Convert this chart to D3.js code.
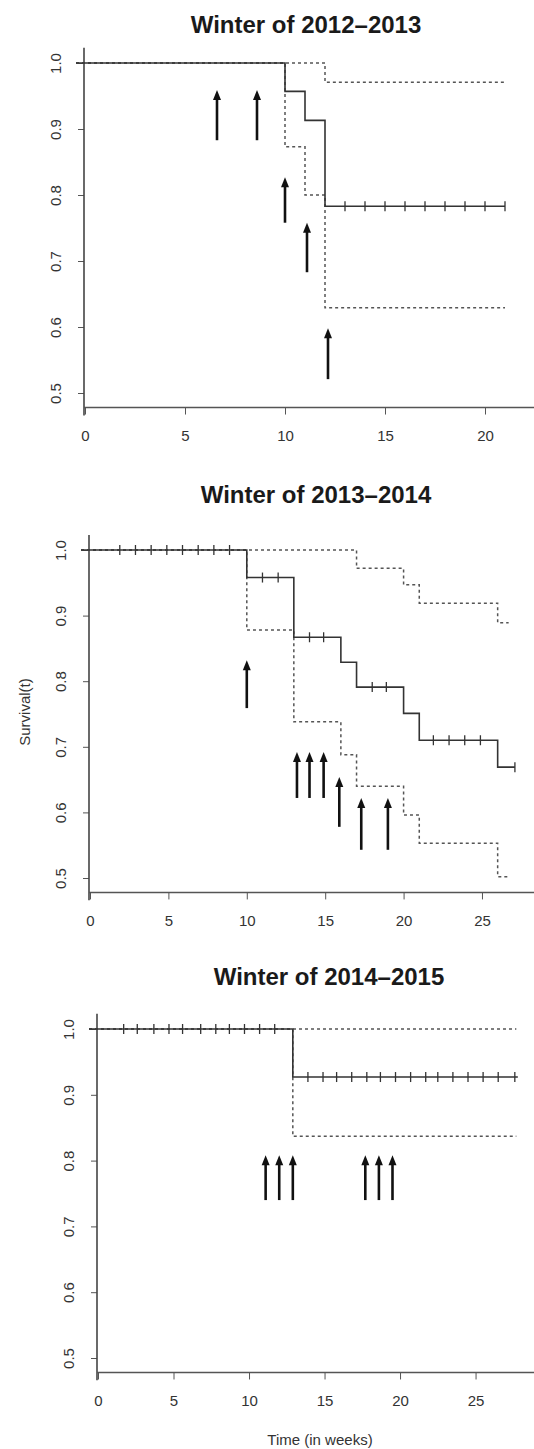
<!DOCTYPE html>
<html>
<head>
<meta charset="utf-8">
<script src="https://cdn.jsdelivr.net/npm/d3@7"></script>
<style>
  body { margin: 0; background: #fff; }
  text { font-family: "Liberation Sans", Arial, sans-serif; }
</style>
</head>
<body>
<svg id="chart" width="534" height="1449"></svg>
<script>
// ---- data ----
var titles = ["Winter of 2012\u20132013", "Winter of 2013\u20132014", "Winter of 2014\u20132015"];
var yTicks = [0.5, 0.6, 0.7, 0.8, 0.9, 1.0];
var xTicksA = [0, 5, 10, 15, 20];
var xTicksB = [0, 5, 10, 15, 20, 25];

// winter 2012-2013
var p1SolidTime = [0, 10, 11, 12], p1SolidSurv = [1, 0.957, 0.913, 0.783], p1SolidEnd = 21;
var p1SolidCensor = [13, 14, 15, 16, 17, 18, 19, 20, 21];
var p1HighTime = [0, 12], p1HighSurv = [1, 0.971], p1HighEnd = 21;
var p1LowTime = [0, 10, 11, 12], p1LowSurv = [1, 0.873, 0.8, 0.629], p1LowEnd = 21;
var p1ArrowTime = [6.6, 8.6, 10.0, 11.1, 12.15];
var p1ArrowHead = [0.959, 0.959, 0.827, 0.758, 0.598];
var p1ArrowTail = [0.883, 0.883, 0.758, 0.683, 0.521];

// winter 2013-2014
var p2SolidTime = [0, 10, 13, 16, 17, 20, 21, 26];
var p2SolidSurv = [1, 0.958, 0.867, 0.829, 0.791, 0.751, 0.71, 0.669], p2SolidEnd = 27.1;
var p2SolidCensor = [1.9, 2.9, 3.9, 4.9, 5.9, 6.9, 7.9, 8.9, 11, 12, 14, 14.9, 18, 18.9, 21.9, 22.9, 23.9, 24.9, 27.1];
var p2HighTime = [0, 17, 20, 21, 26], p2HighSurv = [1, 0.972, 0.947, 0.919, 0.889], p2HighEnd = 26.7;
var p2LowTime = [0, 10, 13, 16, 17, 20, 21, 26];
var p2LowSurv = [1, 0.878, 0.738, 0.688, 0.64, 0.596, 0.553, 0.502], p2LowEnd = 26.8;
var p2ArrowTime = [10.0, 13.2, 14.0, 14.9, 15.9, 17.3, 19.0];
var p2ArrowHead = [0.832, 0.692, 0.692, 0.692, 0.654, 0.622, 0.622];
var p2ArrowTail = [0.759, 0.622, 0.622, 0.622, 0.578, 0.543, 0.543];

// winter 2014-2015
var p3SolidTime = [0, 12.9], p3SolidSurv = [1, 0.927], p3SolidEnd = 27.8;
var p3SolidCensor = [1.7, 2.6, 3.7, 4.7, 5.6, 6.8, 7.8, 8.7, 9.7, 10.7, 11.7,
                     13.9, 14.9, 15.8, 16.8, 17.8, 18.7, 19.7, 20.7, 21.7, 22.5, 23.5, 24.5, 25.5, 26.5, 27.6];
var p3HighTime = [0], p3HighSurv = [1], p3HighEnd = 27.7;
var p3LowTime = [0, 12.9], p3LowSurv = [1, 0.837], p3LowEnd = 27.7;
var p3ArrowTime = [11.1, 12.0, 12.9, 17.7, 18.6, 19.5];
var p3ArrowHead = [0.808, 0.808, 0.808, 0.808, 0.808, 0.808];
var p3ArrowTail = [0.74, 0.74, 0.74, 0.74, 0.74, 0.74];

function curve(time, surv, end, censor, dashed) {
  return {time: time, surv: surv, end: end, censor: censor || [], dashed: dashed};
}

var panels = [
  { title: titles[0], xTicks: xTicksA, xDom: [0, 22.45], xRange: [85, 534], yRange: [393, 63],
    titleX: 306, titleY: 33,
    curves: [curve(p1HighTime, p1HighSurv, p1HighEnd, null, true),
             curve(p1LowTime, p1LowSurv, p1LowEnd, null, true),
             curve(p1SolidTime, p1SolidSurv, p1SolidEnd, p1SolidCensor, false)],
    arrows: {time: p1ArrowTime, head: p1ArrowHead, tail: p1ArrowTail} },
  { title: titles[1], xTicks: xTicksB, xDom: [0, 28.19], xRange: [90, 532], yRange: [878, 550],
    titleX: 316, titleY: 503,
    curves: [curve(p2HighTime, p2HighSurv, p2HighEnd, null, true),
             curve(p2LowTime, p2LowSurv, p2LowEnd, null, true),
             curve(p2SolidTime, p2SolidSurv, p2SolidEnd, p2SolidCensor, false)],
    arrows: {time: p2ArrowTime, head: p2ArrowHead, tail: p2ArrowTail} },
  { title: titles[2], xTicks: xTicksB, xDom: [0, 28.87], xRange: [98, 534], yRange: [1358, 1029],
    titleX: 329, titleY: 985,
    curves: [curve(p3HighTime, p3HighSurv, p3HighEnd, null, true),
             curve(p3LowTime, p3LowSurv, p3LowEnd, null, true),
             curve(p3SolidTime, p3SolidSurv, p3SolidEnd, p3SolidCensor, false)],
    arrows: {time: p3ArrowTime, head: p3ArrowHead, tail: p3ArrowTail} }
];

var svg = d3.select("#chart");
svg.append("rect").attr("width", 534).attr("height", 1449).attr("fill", "#fff");

panels.forEach(function(p) {
  var x = d3.scaleLinear().domain(p.xDom).range(p.xRange);
  var y = d3.scaleLinear().domain([0.5, 1]).range(p.yRange);
  var g = svg.append("g");
  var ax0 = x(0) - 1;

  g.append("text")
    .attr("x", p.titleX).attr("y", p.titleY)
    .attr("text-anchor", "middle")
    .style("font-size", "24px").style("font-weight", "bold").style("fill", "#1a1a1a")
    .text(p.title);

  // y axis
  var yAx = g.append("g").attr("transform", "translate(" + ax0 + ",0)")
    .call(d3.axisLeft(y).tickValues(yTicks).tickFormat(d3.format(".1f")).tickSize(6));
  yAx.select(".domain").remove();
  yAx.selectAll("line").attr("stroke", "#555");
  yAx.selectAll("text")
    .attr("transform", "rotate(-90)")
    .attr("x", 0).attr("y", -28).attr("dy", "0.35em")
    .attr("text-anchor", "middle")
    .style("font-size", "15px").style("fill", "#333");
  g.append("line")
    .attr("x1", ax0).attr("x2", ax0)
    .attr("y1", y(1.023)).attr("y2", y(0.466))
    .attr("stroke", "#444").attr("stroke-width", 1.6);

  // x axis
  var xAxisY = y(0.478);
  var xAx = g.append("g").attr("transform", "translate(0," + xAxisY + ")")
    .call(d3.axisBottom(x).tickValues(p.xTicks).tickSize(7));
  xAx.select(".domain").remove();
  xAx.selectAll("line").attr("stroke", "#555");
  xAx.selectAll("text").attr("y", 28).attr("dy", "0.35em")
    .style("font-size", "15px").style("fill", "#333");
  g.append("line")
    .attr("x1", ax0).attr("x2", 534)
    .attr("y1", xAxisY).attr("y2", xAxisY)
    .attr("stroke", "#555").attr("stroke-width", 1.4);

  // survival curves
  var line = d3.line().curve(d3.curveStepAfter)
    .x(function(d) { return x(d[0]); }).y(function(d) { return y(d[1]); });
  p.curves.forEach(function(c) {
    var pts = c.time.map(function(t, i) { return [t, c.surv[i]]; });
    pts.push([c.end, c.surv[c.surv.length - 1]]);
    var path = line(pts);
    g.append("path")
      .attr("d", "M" + (x(0) - 9) + "," + y(1) + "L" + path.slice(1))
      .attr("fill", "none")
      .attr("stroke", c.dashed ? "#555" : "#333")
      .attr("stroke-width", c.dashed ? 1.5 : 1.6)
      .attr("stroke-dasharray", c.dashed ? "3,3" : null);
    var step = d3.scaleThreshold().domain(c.time.slice(1)).range(c.surv);
    g.selectAll(null).data(c.censor).enter().append("line")
      .attr("x1", function(d) { return x(d); }).attr("x2", function(d) { return x(d); })
      .attr("y1", function(d) { return y(step(d)) - 5; })
      .attr("y2", function(d) { return y(step(d)) + 5; })
      .attr("stroke", "#333").attr("stroke-width", 1.3);
  });

  // arrows
  var a = p.arrows;
  a.time.forEach(function(t, i) {
    var ax = x(t), yh = y(a.head[i]), yt = y(a.tail[i]);
    g.append("line")
      .attr("x1", ax).attr("x2", ax).attr("y1", yt).attr("y2", yh + 8)
      .attr("stroke", "#111").attr("stroke-width", 2.6);
    g.append("path")
      .attr("d", "M" + ax + "," + yh + "L" + (ax - 4) + "," + (yh + 10) + "L" + (ax + 4) + "," + (yh + 10) + "Z")
      .attr("fill", "#111");
  });
});

svg.append("text")
  .attr("transform", "translate(25,712) rotate(-90)")
  .attr("text-anchor", "middle").attr("dy", "0.35em")
  .style("font-size", "15px").style("fill", "#333")
  .text("Survival(t)");

svg.append("text")
  .attr("x", 320).attr("y", 1440).attr("dy", "0.35em")
  .attr("text-anchor", "middle")
  .style("font-size", "15px").style("fill", "#333")
  .text("Time (in weeks)");
</script>
</body>
</html>
